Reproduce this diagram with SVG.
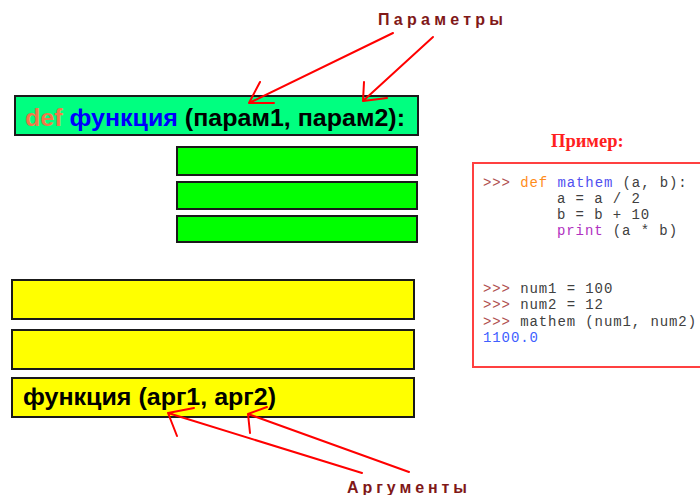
<svg xmlns="http://www.w3.org/2000/svg" width="700" height="495" viewBox="0 0 700 495">
<style>
.box{stroke:#1a1a1a;stroke-width:2}
.hdr{fill:#00ff80}
.grn{fill:#00ff00}
.yel{fill:#ffff00}
.big{font-family:"Liberation Sans",Arial,sans-serif;font-weight:bold;font-size:23px}
.lbl{font-family:"Liberation Sans",Arial,sans-serif;font-weight:bold;font-size:16px;fill:#801818}
.code{font-family:"Liberation Mono","Courier New",monospace;font-size:14px;letter-spacing:0.9px;fill:#404040}
.pr{fill:#b05050}
.kw{fill:#ff8c1a}
.fn{fill:#5050f0}
.pt{fill:#b030c0}
.out{fill:#4060ff}
.arr{stroke:#ff0000;stroke-width:2;fill:none;stroke-linecap:round}
</style>
<rect width="700" height="495" fill="#ffffff"/>
<g id="header">
<rect class="box hdr" x="15" y="96" width="403" height="39"/>
<text class="big" x="25" y="126" textLength="380" lengthAdjust="spacingAndGlyphs"><tspan fill="#f07848">def</tspan> <tspan fill="#0000ff">функция</tspan> <tspan fill="#000000">(парам1, парам2):</tspan></text>
</g>
<g id="body1"><rect class="box grn" x="177" y="147" width="240" height="28"/></g>
<g id="body2"><rect class="box grn" x="177" y="182" width="240" height="27"/></g>
<g id="body3"><rect class="box grn" x="177" y="216" width="240" height="26"/></g>
<g id="call1"><rect class="box yel" x="12" y="280" width="402" height="39"/></g>
<g id="call2"><rect class="box yel" x="12" y="330" width="402" height="39"/></g>
<g id="call3">
<rect class="box yel" x="12" y="378" width="402" height="39"/>
<text class="big" x="23" y="405" textLength="253" lengthAdjust="spacingAndGlyphs" fill="#000000">функция (арг1, арг2)</text>
</g>
<g id="params-label"><text class="lbl" x="378" y="25" textLength="125" lengthAdjust="spacing">Параметры</text></g>
<g id="args-label"><text class="lbl" x="347" y="493" textLength="120" lengthAdjust="spacing">Аргументы</text></g>
<g id="example">
<text x="551" y="147" font-family="'Liberation Serif','Times New Roman',serif" font-weight="bold" font-size="18.5" fill="#ff2020">Пример:</text>
<rect x="473" y="163" width="240" height="204" fill="#ffffff" stroke="#ff4040" stroke-width="2"/>
<text class="code" x="483" y="187"><tspan class="pr">&gt;&gt;&gt;</tspan> <tspan class="kw">def</tspan> <tspan class="fn">mathem</tspan> (a, b):</text>
<text class="code" x="557" y="203">a = a / 2</text>
<text class="code" x="557" y="219">b = b + 10</text>
<text class="code" x="557" y="235"><tspan class="pt">print</tspan> (a * b)</text>
<text class="code" x="483" y="293"><tspan class="pr">&gt;&gt;&gt;</tspan> num1 = 100</text>
<text class="code" x="483" y="309"><tspan class="pr">&gt;&gt;&gt;</tspan> num2 = 12</text>
<text class="code" x="483" y="326"><tspan class="pr">&gt;&gt;&gt;</tspan> mathem (num1, num2)</text>
<text class="code out" x="483" y="342">1100.0</text>
</g>
<g id="connectors">
<path class="arr" d="M393 33 L249 103 M249 103 L260 82 M249 103 L274 103"/>
<path class="arr" d="M433 37 L363 101 M363 101 L364 82 M363 101 L387 98"/>
<path class="arr" d="M362 473 L168 413 M168 413 L194 408 M168 413 L177 436"/>
<path class="arr" d="M409 472 L248 414 M248 414 L267 407 M248 414 L250 433"/>
</g>
</svg>
